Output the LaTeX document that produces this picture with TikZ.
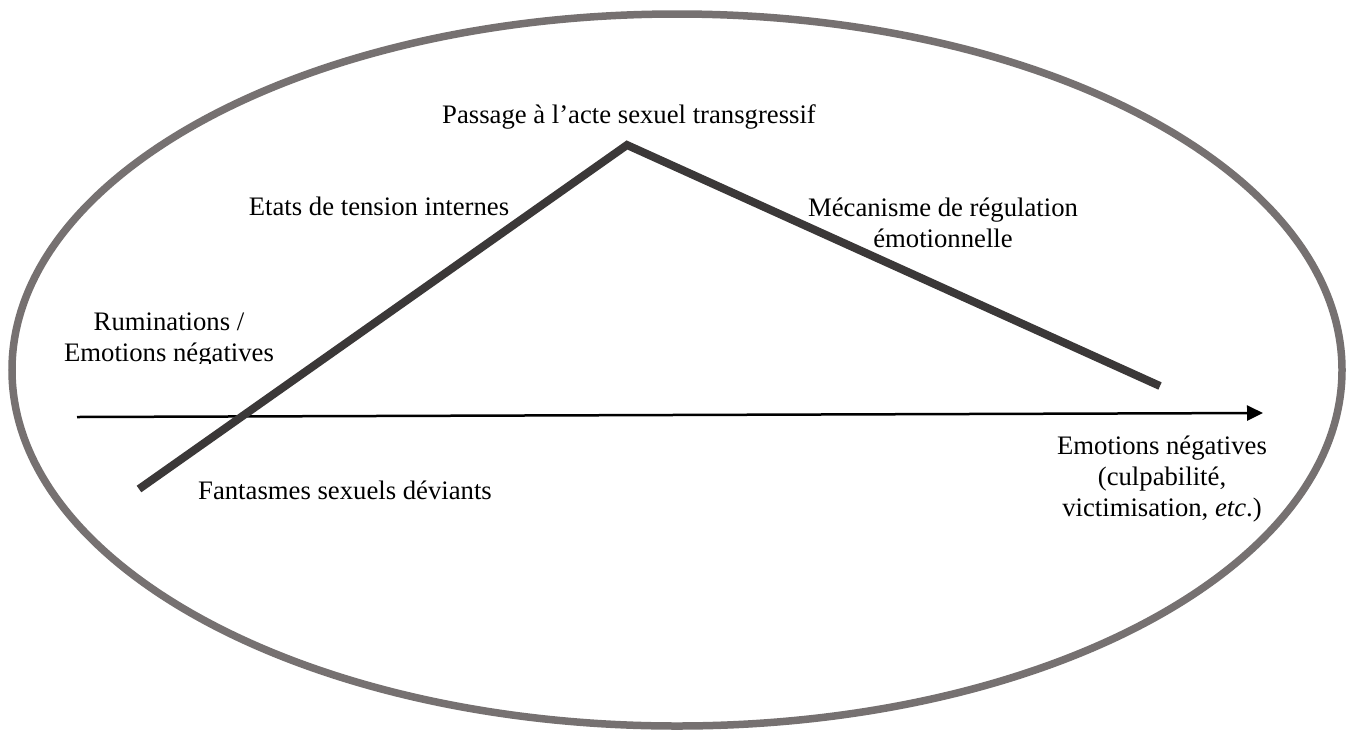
\documentclass[tikz,border=0pt]{standalone}
\usepackage{fontspec}
\setmainfont{Liberation Serif}
\usetikzlibrary{arrows.meta}
\definecolor{ovalgray}{HTML}{767171}
\definecolor{zigzag}{HTML}{3B3838}
\tikzset{
  lbl/.style={inner sep=0pt, anchor=base, align=center, font=\fontsize{26.7}{31}\selectfont},
  ovalline/.style={draw=ovalgray, line width=7.5pt},
  curve/.style={draw=zigzag, line width=8pt, line join=miter, line cap=butt},
  timeaxis/.style={draw=black, line width=2.5pt, -{Triangle[length=16pt,width=15pt]}}
}
\begin{document}
\begin{tikzpicture}[x=1pt,y=-1pt]
\useasboundingbox (0,0) rectangle (1354,729);
\fill[white] (0,0) rectangle (1354,729);
% oval
\draw[ovalline] (677,370) ellipse [x radius=665pt, y radius=356pt];
% time axis
\coordinate (axstart) at (77,417);
\coordinate (axend) at (1263,413);
\draw[timeaxis] (axstart) -- (axend);
% cycle curve
\coordinate (zstart) at (139,489);
\coordinate (zpeak) at (627,145);
\coordinate (zend) at (1160,386);
\draw[curve] (zstart) -- (zpeak) -- (zend);
% labels (base anchor = baseline of last line)
\node[lbl] (passage) at (629,123) {Passage à l’acte sexuel transgressif};
\node[lbl] (tension) at (379,215) {Etats de tension internes};
\node[lbl] (regul) at (943,247) {Mécanisme de régulation\\émotionnelle};
\begin{scope}
\clip (0,0) rectangle (1354,363);
\node[lbl] (rumin) at (169,361) {Ruminations /\\Emotions négatives};
\end{scope}
\node[lbl] (fantasmes) at (345,499) {Fantasmes sexuels déviants};
\node[lbl] (emoneg) at (1162,516) {Emotions négatives\\(culpabilité,\\victimisation, \textit{etc}.)};
\end{tikzpicture}
\end{document}
